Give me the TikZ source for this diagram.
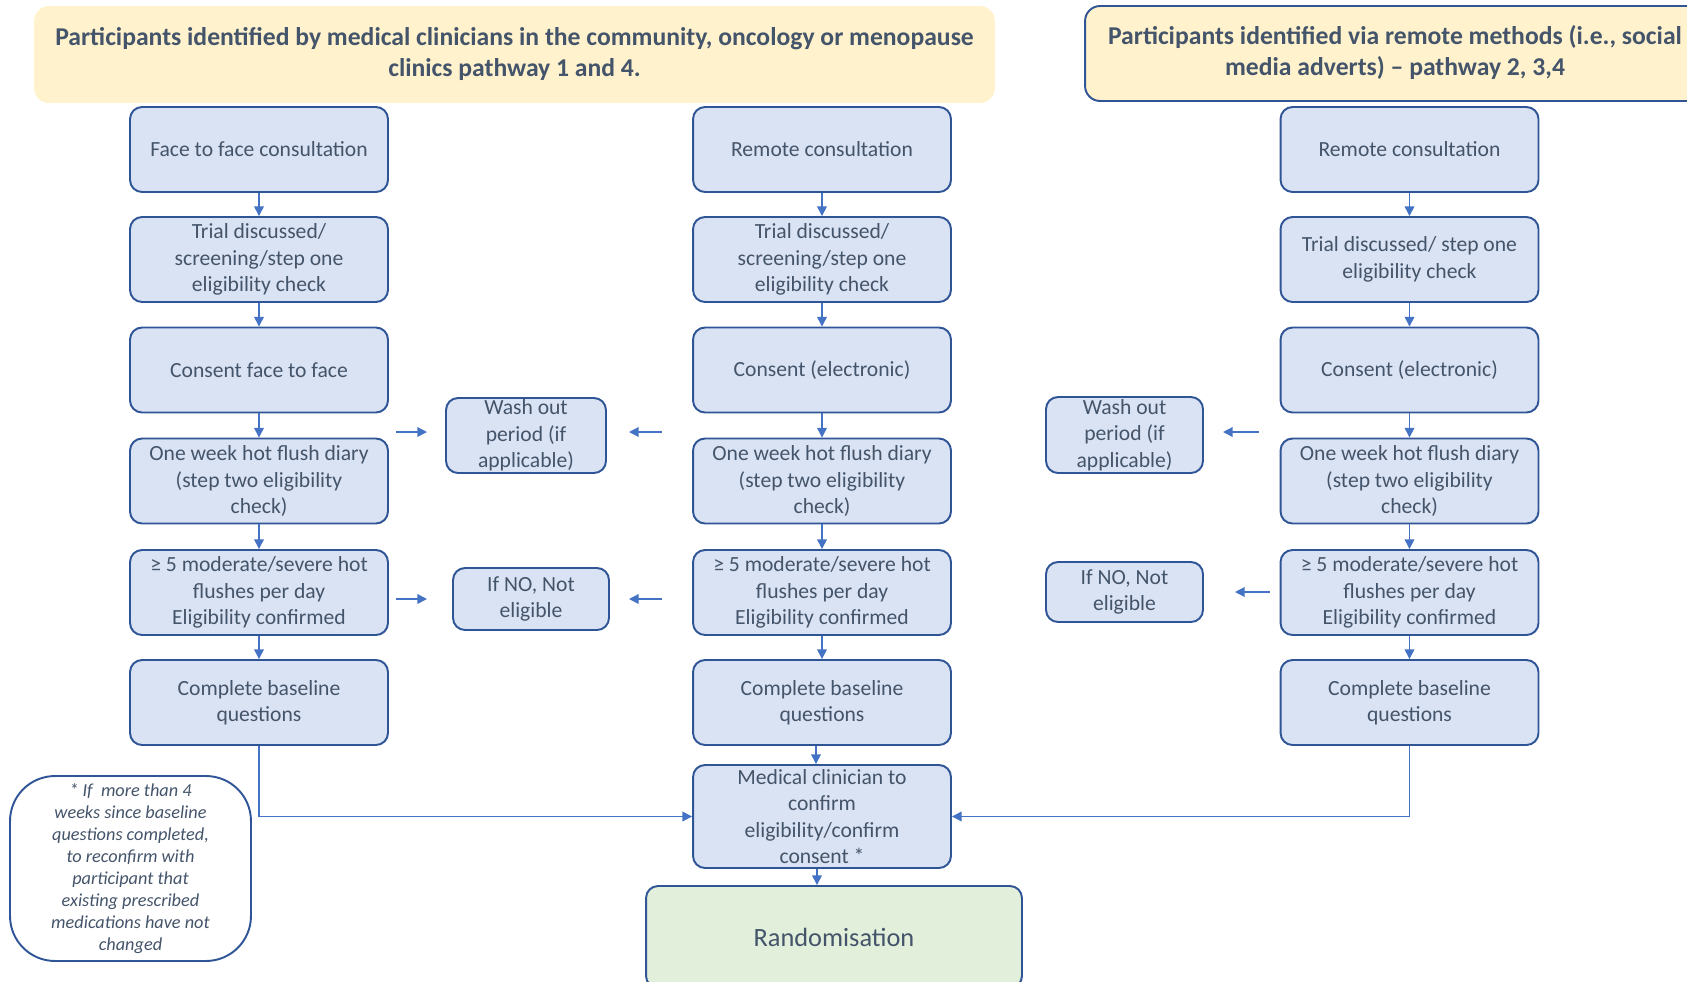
\documentclass[tikz,border=0pt]{standalone}
\usepackage{fontspec}
\setmainfont{Carlito}
\usetikzlibrary{arrows.meta}
\definecolor{boxfill}{HTML}{DAE3F3}
\definecolor{boxline}{HTML}{2F5597}
\definecolor{headfill}{HTML}{FFF2CC}
\definecolor{randfill}{HTML}{E2EFDA}
\definecolor{inkslate}{HTML}{44546A}
\definecolor{arrowblue}{HTML}{4472C4}

\begin{document}
\begin{tikzpicture}[x=0.02cm,y=-0.02cm,line width=0.8pt,
  stepbox/.style={draw=boxline,fill=boxfill,line width=1.1pt,rounded corners=0.24cm,text=inkslate,align=center,
    font=\fontsize{12.3}{15}\selectfont,inner sep=0pt,minimum width=5.16cm,minimum height=1.7cm},
  headbox/.style={fill=headfill,rounded corners=0.3cm,text=inkslate,align=center,
    font=\fontsize{14.6}{17.8}\selectfont\bfseries,inner sep=0pt},
  flow/.style={arrowblue,-{Triangle[length=5.5pt,width=5.5pt]}}]
\useasboundingbox (0,0) rectangle (1687,981);
% headers
\node[headbox,minimum width=19.22cm,minimum height=1.94cm] (hleft) at (514.5,54.5)
  {\raisebox{-1.5pt}{\begin{tabular}{@{}c@{}}Participants identified by medical clinicians in the community, oncology or menopause\\clinics pathway 1 and 4.\end{tabular}}};
\node[headbox,draw=boxline,line width=1.1pt,minimum width=12.4cm,minimum height=1.9cm] (hright) at (1395,53.5)
  {\raisebox{-1.5pt}{\begin{tabular}{@{}c@{}}Participants identified via remote methods (i.e., social\\media adverts) -- pathway 2, 3,4\end{tabular}}};
% column 1
\node[stepbox] (a1) at (259,149.5){Face to face consultation};
\node[stepbox] (a2) at (259,259.5){Trial discussed/\\screening/step one\\eligibility check};
\node[stepbox] (a3) at (259,370){Consent face to face};
\node[stepbox] (a4) at (259,481){One week hot flush diary\\(step two eligibility\\check)};
\node[stepbox] (a5) at (259,592.5){≥ 5 moderate/severe hot\\flushes per day\\Eligibility confirmed};
\node[stepbox] (a6) at (259,702.5){Complete baseline\\questions};
% column 2
\node[stepbox] (b1) at (822,149.5){Remote consultation};
\node[stepbox] (b2) at (822,259.5){Trial discussed/\\screening/step one\\eligibility check};
\node[stepbox] (b3) at (822,370){Consent (electronic)};
\node[stepbox] (b4) at (822,481){One week hot flush diary\\(step two eligibility\\check)};
\node[stepbox] (b5) at (822,592.5){≥ 5 moderate/severe hot\\flushes per day\\Eligibility confirmed};
\node[stepbox] (b6) at (822,702.5){Complete baseline\\questions};
\node[stepbox,minimum height=2.06cm] (med) at (822,816.5){Medical clinician to\\confirm\\eligibility/confirm\\consent *};
\node[stepbox,fill=randfill,font=\fontsize{15}{18}\selectfont,minimum width=7.52cm,minimum height=2.04cm] (rand) at (834,937){Randomisation};
% column 3
\node[stepbox] (c1) at (1409.5,149.5){Remote consultation};
\node[stepbox] (c2) at (1409.5,259.5){Trial discussed/ step one\\eligibility check};
\node[stepbox] (c3) at (1409.5,370){Consent (electronic)};
\node[stepbox] (c4) at (1409.5,481){One week hot flush diary\\(step two eligibility\\check)};
\node[stepbox] (c5) at (1409.5,592.5){≥ 5 moderate/severe hot\\flushes per day\\Eligibility confirmed};
\node[stepbox] (c6) at (1409.5,702.5){Complete baseline\\questions};
% side boxes
\node[stepbox,minimum width=3.2cm,minimum height=1.5cm] (wash1) at (526,435.5){Wash out\\period (if\\applicable)};
\node[stepbox,minimum width=3.12cm,minimum height=1.24cm] (no1) at (531,599){If NO, Not\\eligible};
\node[stepbox,minimum width=3.14cm,minimum height=1.52cm] (wash2) at (1124.5,435){Wash out\\period (if\\applicable)};
\node[stepbox,minimum width=3.14cm,minimum height=1.2cm] (no2) at (1124.5,592){If NO, Not\\eligible};
\node[stepbox,fill=white,rounded corners=0.9cm,minimum width=4.82cm,minimum height=3.7cm,
  font=\fontsize{10.4}{12.5}\selectfont\itshape] (note) at (130.5,868.5)
  {* If~ more than 4\\weeks since baseline\\questions completed,\\to reconfirm with\\participant that\\existing prescribed\\medications have not\\changed};
% loose arrow ends
\coordinate (wa1) at (396,432);  \coordinate (wa2) at (427,432);
\coordinate (wb1) at (662,432);  \coordinate (wb2) at (629,432);
\coordinate (wc1) at (1259,432); \coordinate (wc2) at (1223,432);
\coordinate (na1) at (396,599);  \coordinate (na2) at (427,599);
\coordinate (nb1) at (662,599);  \coordinate (nb2) at (629,599);
\coordinate (nc1) at (1270,592); \coordinate (nc2) at (1235,592);
% arrows
\foreach \c in {a,b,c}{
  \draw[flow] (\c1) -- (\c2);
  \draw[flow] (\c2) -- (\c3);
  \draw[flow] (\c3) -- (\c4);
  \draw[flow] (\c4) -- (\c5);
  \draw[flow] (\c5) -- (\c6);
}
\draw[flow] ([xshift=-0.12cm]b6.south) -- ([xshift=-0.12cm]med.north);
\draw[flow] ([xshift=-0.1cm]med.south) -- ([xshift=-0.1cm]med.south |- rand.north);
\draw[flow] (a6.south) |- (med.west);
\draw[flow] (c6.south) |- (med.east);
\foreach \s in {wa,wb,wc,na,nb,nc}
  \draw[flow] (\s1) -- (\s2);
\end{tikzpicture}
\end{document}
